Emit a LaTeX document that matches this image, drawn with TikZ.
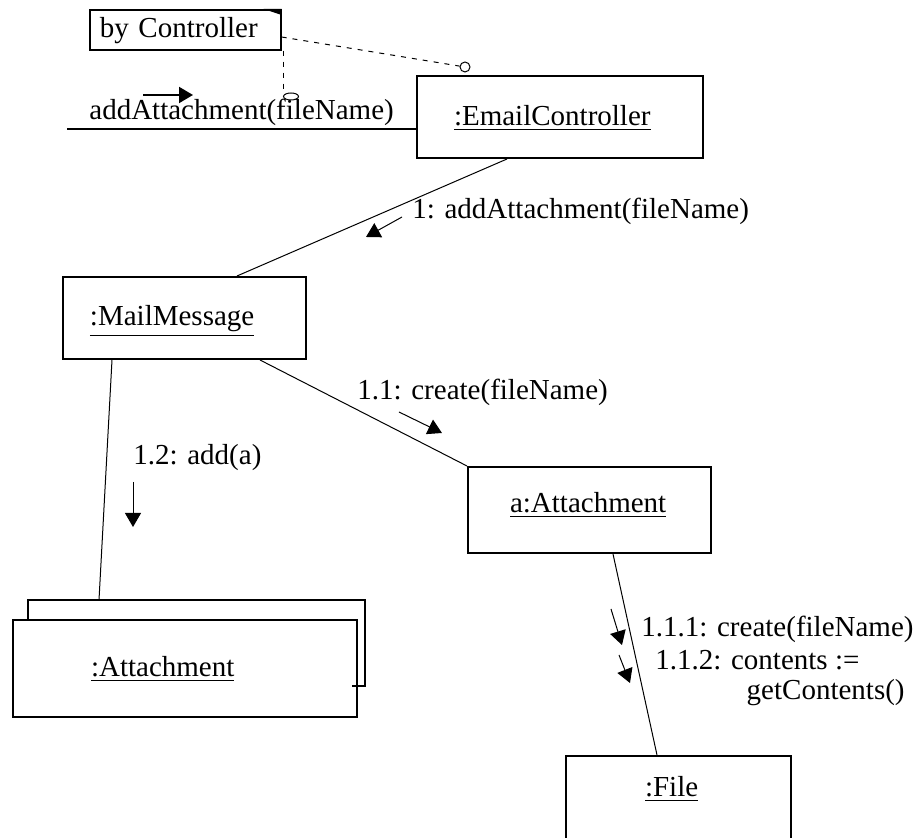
\documentclass[tikz,border=0pt]{standalone}
\usepackage{fontspec}
\setmainfont{Liberation Serif}
\usetikzlibrary{arrows.meta,shapes.geometric}

\newcommand*{\xmin}{0}
\newcommand*{\xmax}{917}
\newcommand*{\ymin}{0}
\newcommand*{\ymax}{838}

\begin{document}
\begin{tikzpicture}
[
	x=0.5pt,y=-0.5pt,
	font=\fontsize{14.5}{17}\selectfont,
	obj/.style={draw,line width=1pt,anchor=north west,inner ysep=0pt,align=left},
	msg/.style={anchor=base west,inner sep=0pt},
	link/.style={line width=0.5pt},
	call/.style={-{Triangle[length=7pt,width=8pt]},line width=0.5pt},
	openpt/.style={circle,draw,inner sep=0pt,minimum size=5pt,line width=0.5pt},
	pin/.style={dash pattern=on 2.5pt off 3pt,line width=0.5pt}
]

	\useasboundingbox (\xmin,\ymin) rectangle (\xmax,\ymax);
	\clip (\xmin,\ymin) rectangle (\xmax,\ymax);

	% note
	\node[obj,line width=0.8pt,inner xsep=5pt,text width=85.5pt,text height=14pt,text depth=6pt] (note) at (89,9) {by Controller};
	\fill (note.north east) -- ++(-18,0) -- ++(18,6) -- cycle;

	% objects
	\node[obj,inner xsep=18.5pt,text width=106pt,text height=25pt,text depth=16pt] (email) at (416,75) {\underline{:EmailController}};
	\node[obj,inner xsep=13.5pt,text width=94.5pt,text height=24.5pt,text depth=16.5pt] (mail) at (62,276) {\underline{:MailMessage}};
	\node[obj,inner xsep=21pt,text width=79.5pt,text height=23pt,text depth=20pt] (att) at (467,466) {\underline{a:Attachment}};
	\draw[line width=1pt] (28,619) -- (28,600) -- (365,600) -- (365,686) -- (352,686);
	\node[obj,inner xsep=39pt,text width=94pt,text height=28.5pt,text depth=20pt] (atts) at (12,619) {\underline{:Attachment}};
	\node[obj,inner xsep=39.5pt,text width=33.5pt,text height=20.5pt,text depth=22.5pt] (file) at (565,755) {\underline{:File}};

	% links
	\coordinate (actor) at (67,129);
	\coordinate (attstop) at (99,600);
	\draw[link,line width=0.8pt] (actor) -- (actor -| email.west);
	\draw[link] ([xshift=45.5pt]email.south west) -- ([xshift=87.5pt]mail.north west);
	\draw[link] ([xshift=99pt]mail.south west) -- (att.north west);
	\draw[link] ([xshift=25pt]mail.south west) -- (attstop);
	\draw[link] ([xshift=73pt]att.south west) -- ([xshift=46pt]file.north west);

	% constraint pins
	\node[openpt] (ctlpin) at (465,67) {};
	\node[draw,ellipse,inner sep=0pt,minimum width=7.5pt,minimum height=3.5pt,line width=0.5pt] (msgpin) at (291,96.5) {};
	\draw[pin] ([yshift=-14pt]note.north east) -- (ctlpin);
	\draw[pin] ([xshift=1pt]note.south east) -- ++(0,38);

	% messages
	\node[msg] (msgin) at (89,120) {addAttachment(fileName)};
	\node[msg] (m1) at (412,219) {1: addAttachment(fileName)};
	\node[msg] (m11) at (357,400) {1.1: create(fileName)};
	\node[msg] (m12) at (133,465) {1.2: add(a)};
	\node[msg] (m111) at (641,637) {1.1.1: create(fileName)};
	\node[msg] (m112) at (655,670) {1.1.2: contents :=};
	\node[msg,anchor=base east] (m112b) at (905,700) {getContents()};

	\draw[call,line width=1pt] (143,95) -- (193,95);
	\draw[call] (402,217) -- (366,237);
	\draw[call] (399,412) -- (442,433);
	\draw[call] (133,482) -- (133,527);
	\draw[call] (611,609) -- (622,645);
	\draw[call] (619,655) -- (630,683);

\end{tikzpicture}
\end{document}
